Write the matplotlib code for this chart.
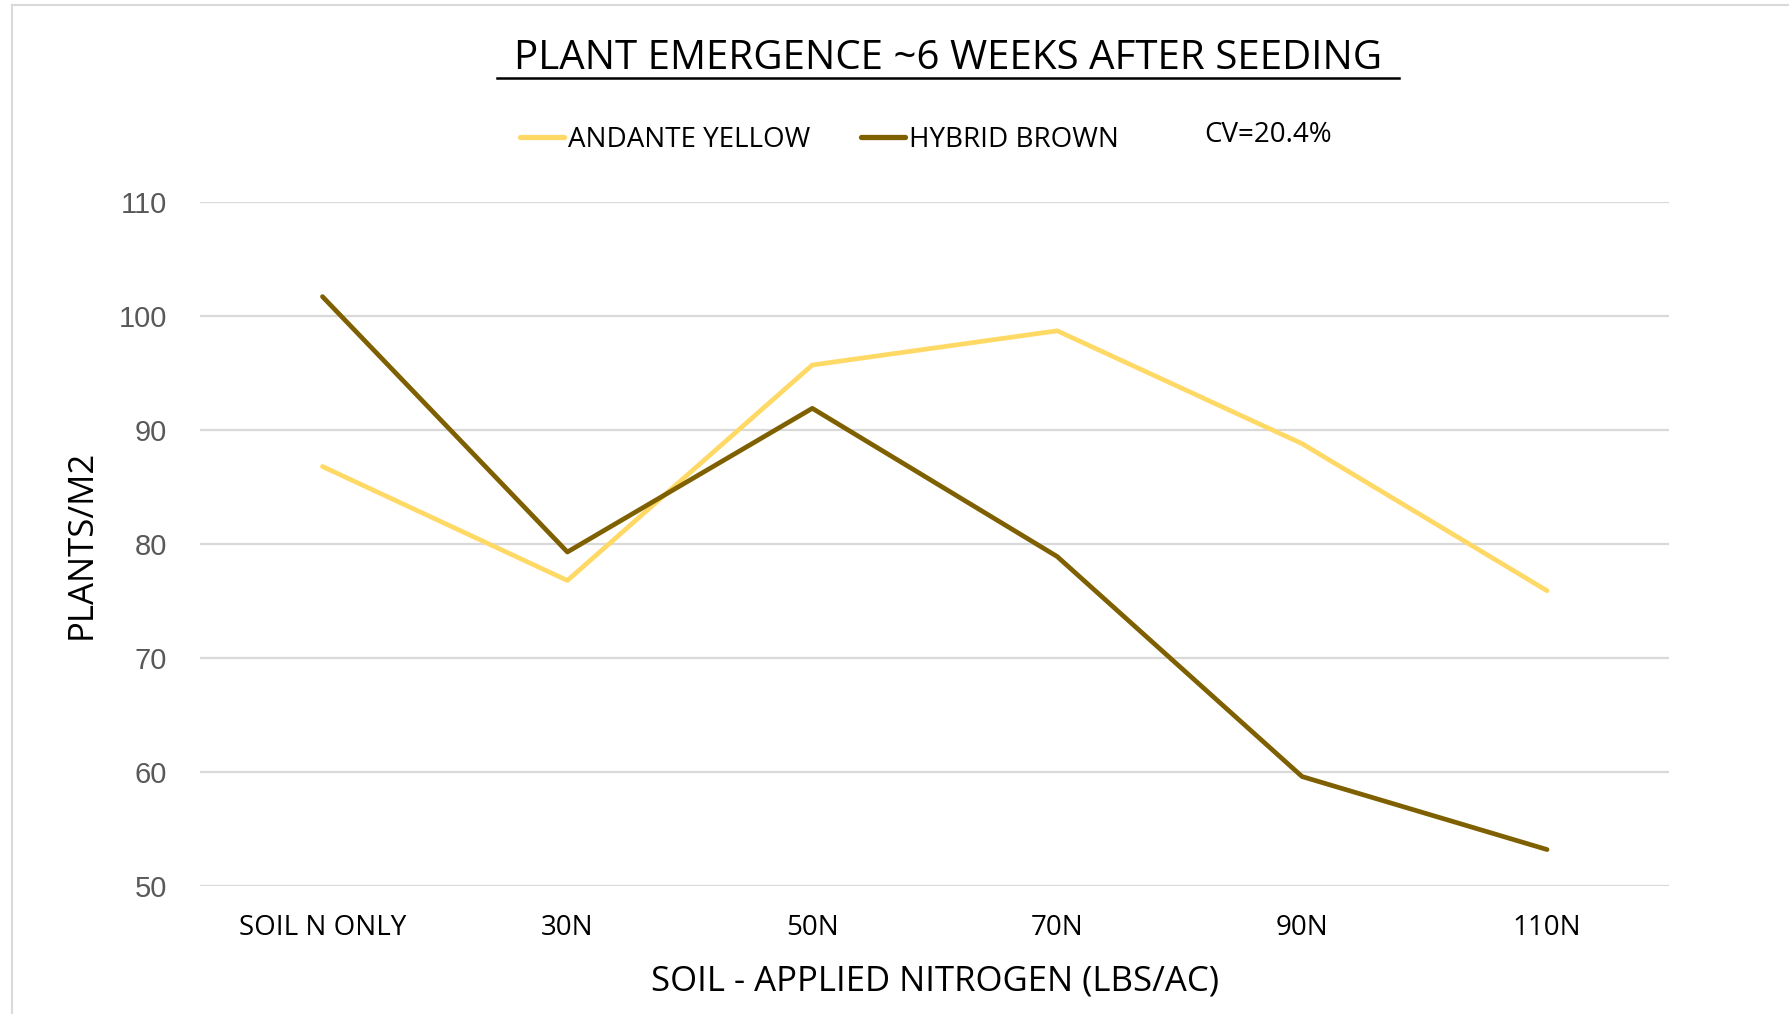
import matplotlib
matplotlib.use("Agg")
import matplotlib.pyplot as plt
from matplotlib.lines import Line2D

# data
categories = ["SOIL N ONLY", "30N", "50N", "70N", "90N", "110N"]
andante_yellow = [86.8, 76.8, 95.7, 98.7, 88.8, 75.9]
hybrid_brown = [101.7, 79.3, 91.9, 78.9, 59.6, 53.2]
y_ticks = [50, 60, 70, 80, 90, 100, 110]

yellow = "#FFD966"
brown = "#7F6000"
grid_col = "#D9D9D9"
tick_col = "#595959"
txt_font = ["Open Sans", "DejaVu Sans"]

fig = plt.figure(figsize=(17.89, 10.14), dpi=100)
ax = fig.add_axes([0.1118, 0.1262, 0.8214, 0.6746])

x = list(range(len(categories)))
ax.plot(x, andante_yellow, color=yellow, lw=3.4, solid_capstyle="round",
        solid_joinstyle="round", label="ANDANTE YELLOW")
ax.plot(x, hybrid_brown, color=brown, lw=3.4, solid_capstyle="round",
        solid_joinstyle="round", label="HYBRID BROWN")

ax.set_xlim(-0.5, len(categories) - 0.5)
ax.set_ylim(50, 110)
ax.set_yticks(y_ticks)
ax.set_xticks(x)
ax.set_xticklabels(categories, fontsize=20, family=txt_font)
ax.tick_params(axis="y", labelsize=21, colors=tick_col, length=0, pad=24)
ax.tick_params(axis="x", length=0, pad=20)
for lab in ax.get_yticklabels():
    lab.set_family(["Liberation Sans", "DejaVu Sans"])
ax.grid(axis="y", color=grid_col, lw=1.6)
ax.set_axisbelow(True)
for s in ax.spines.values():
    s.set_visible(False)

ax.set_xlabel("SOIL - APPLIED NITROGEN (LBS/AC)", fontsize=25, family=txt_font, labelpad=16)
ax.set_ylabel("PLANTS/M2", fontsize=25, family=txt_font, labelpad=14)

fig.text(0.530, 0.942, "PLANT EMERGENCE ~6 WEEKS AFTER SEEDING", fontsize=29,
         family=txt_font, ha="center", va="center")
fig.add_artist(Line2D([0.278, 0.782], [0.923, 0.923], color="black", lw=1.8))

leg = fig.legend(loc="center", bbox_to_anchor=(0.458, 0.862), ncol=2, frameon=False,
                 prop={"family": txt_font, "size": 20}, handlelength=1.6,
                 handletextpad=0.15, columnspacing=1.8)
for h in leg.get_lines():
    h.set_linewidth(3.8)
fig.text(0.709, 0.867, "CV=20.4%", fontsize=20, family=txt_font, ha="center", va="center")

# outer chart border (left and top)
fig.add_artist(Line2D([0.0065, 0.0065], [0.0, 0.995], color="#D9D9D9", lw=1.5))
fig.add_artist(Line2D([0.0065, 1.0], [0.995, 0.995], color="#D9D9D9", lw=1.5))

fig.savefig("out.png", dpi=100)
